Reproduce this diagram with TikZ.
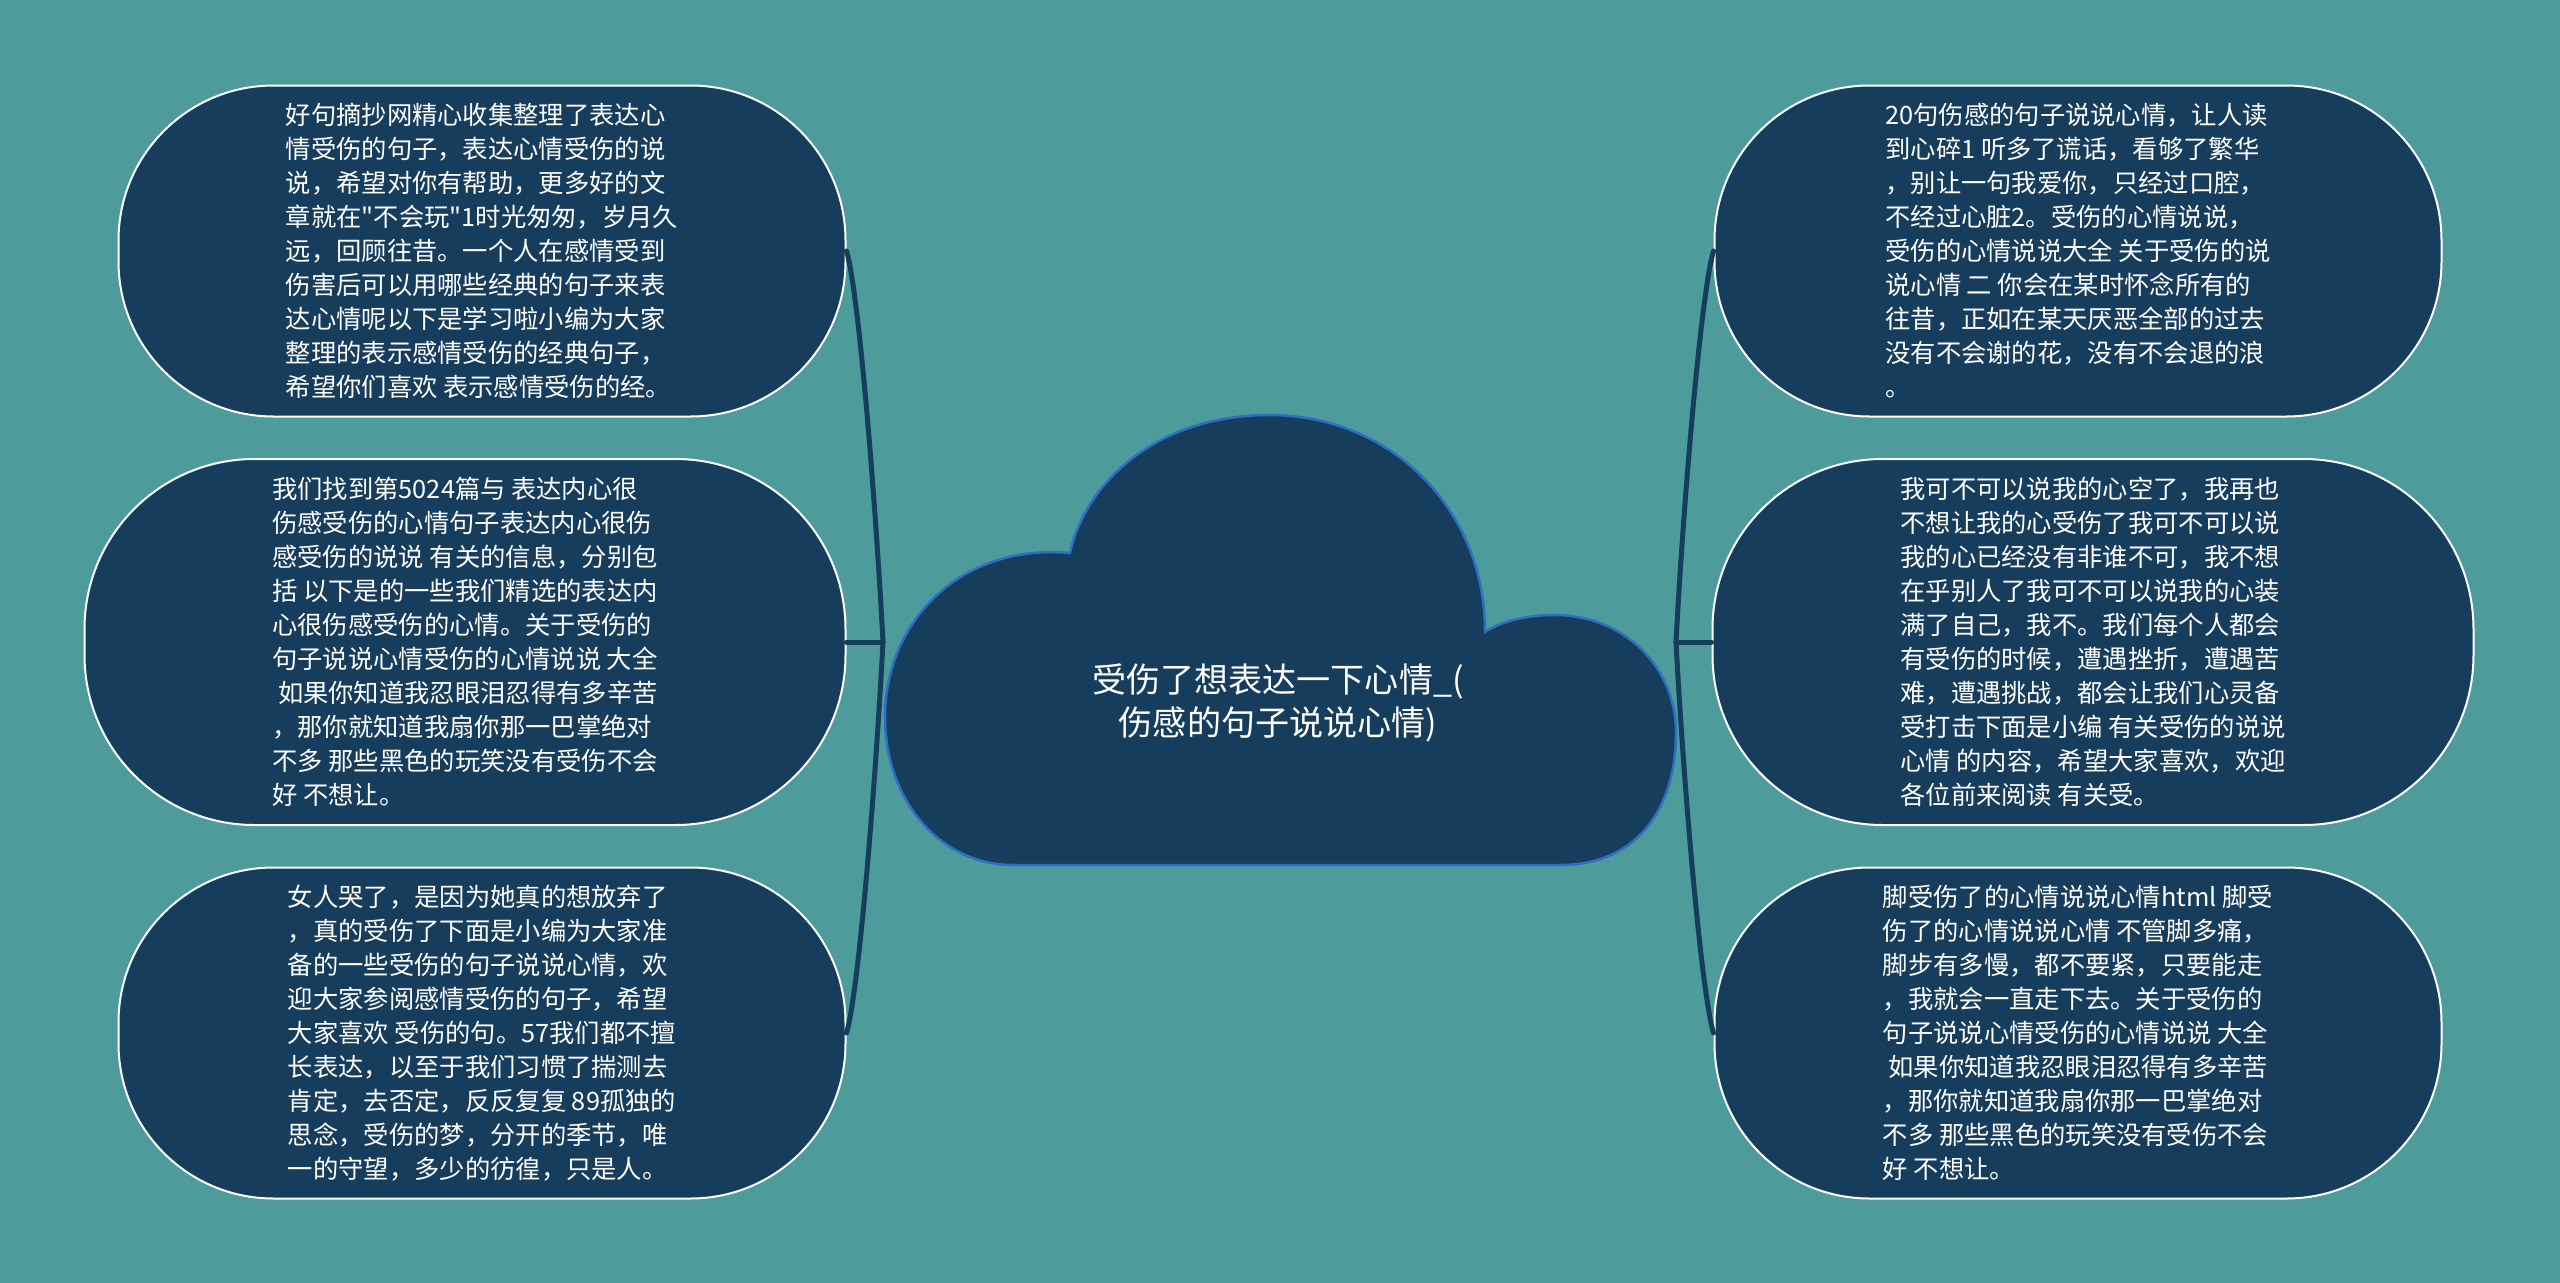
\documentclass[tikz,border=0pt]{standalone}
\usepackage{fontspec}
\newfontfamily\cjk{Noto Sans CJK SC}

\definecolor{bgteal}{RGB}{77,156,155}
\definecolor{boxblue}{RGB}{23,61,93}
\definecolor{rimblue}{RGB}{46,110,196}

\tikzset{
  leaf/.style={draw=white, line width=0.2mm, fill=boxblue, text=white, align=left, inner sep=0pt,
    rounded corners=15.5mm, minimum width=72.7mm, minimum height=33.1mm,
    font=\cjk\fontsize{7.2pt}{9.67pt}\selectfont},
  wideleaf/.style={leaf, rounded corners=17mm, minimum width=76.1mm, minimum height=36.6mm},
  branch/.style={draw=boxblue, line width=0.5mm, line cap=round}
}

\begin{document}
\begin{tikzpicture}[x=0.1mm, y=-0.1mm]

% background
\fill[bgteal] (0,0) rectangle (2560,1283);

% cloud
\draw[fill=boxblue, draw=rimblue, line width=0.25mm]
  (1013,865) -- (1560,865)
  .. controls (1640,865) and (1676,805) .. (1676,733)
  .. controls (1676,665) and (1622,615) .. (1555,615)
  .. controls (1527,615) and (1502,621) .. (1485,632)
  .. controls (1485,507) and (1389,415) .. (1270,415)
  .. controls (1152,415) and (1084,487) .. (1070,553)
  .. controls (960,543) and (885,622) .. (885,717)
  .. controls (885,800) and (940,865) .. (1013,865) -- cycle;
\node[text=white, align=center, font=\cjk\fontsize{9.7pt}{12pt}\selectfont] (title) at (1278,703)
  {受伤了想表达一下心情\_(\\伤感的句子说说心情)};

% left leaves
\node[leaf] (l1) at (482,251) {好句摘抄网精心收集整理了表达心\\情受伤的句子，表达心情受伤的说\\说，希望对你有帮助，更多好的文\\章就在"不会玩"1时光匆匆，岁月久\\远，回顾往昔。一个人在感情受到\\伤害后可以用哪些经典的句子来表\\达心情呢以下是学习啦小编为大家\\整理的表示感情受伤的经典句子，\\希望你们喜欢 表示感情受伤的经。};
\node[wideleaf] (l2) at (465,642) {我们找到第5024篇与 表达内心很\\伤感受伤的心情句子表达内心很伤\\感受伤的说说 有关的信息，分别包\\括 以下是的一些我们精选的表达内\\心很伤感受伤的心情。关于受伤的\\句子说说心情受伤的心情说说 大全\\\ 如果你知道我忍眼泪忍得有多辛苦\\，那你就知道我扇你那一巴掌绝对\\不多 那些黑色的玩笑没有受伤不会\\好 不想让。};
\node[leaf] (l3) at (482,1033) {女人哭了，是因为她真的想放弃了\\，真的受伤了下面是小编为大家准\\备的一些受伤的句子说说心情，欢\\迎大家参阅感情受伤的句子，希望\\大家喜欢 受伤的句。57我们都不擅\\长表达，以至于我们习惯了揣测去\\肯定，去否定，反反复复 89孤独的\\思念，受伤的梦，分开的季节，唯\\一的守望，多少的彷徨，只是人。};

% right leaves
\node[leaf] (r1) at (2078,251) {20句伤感的句子说说心情，让人读\\到心碎1 听多了谎话，看够了繁华\\，别让一句我爱你，只经过口腔，\\不经过心脏2。受伤的心情说说，\\受伤的心情说说大全 关于受伤的说\\说心情 二 你会在某时怀念所有的\\往昔，正如在某天厌恶全部的过去\\没有不会谢的花，没有不会退的浪\\。};
\node[wideleaf] (r2) at (2093,642) {我可不可以说我的心空了，我再也\\不想让我的心受伤了我可不可以说\\我的心已经没有非谁不可，我不想\\在乎别人了我可不可以说我的心装\\满了自己，我不。我们每个人都会\\有受伤的时候，遭遇挫折，遭遇苦\\难，遭遇挑战，都会让我们心灵备\\受打击下面是小编 有关受伤的说说\\心情 的内容，希望大家喜欢，欢迎\\各位前来阅读 有关受。};
\node[leaf] (r3) at (2078,1033) {脚受伤了的心情说说心情html 脚受\\伤了的心情说说心情 不管脚多痛，\\脚步有多慢，都不要紧，只要能走\\，我就会一直走下去。关于受伤的\\句子说说心情受伤的心情说说 大全\\\ 如果你知道我忍眼泪忍得有多辛苦\\，那你就知道我扇你那一巴掌绝对\\不多 那些黑色的玩笑没有受伤不会\\好 不想让。};

% junctions
\coordinate (lj) at (883,642);
\coordinate (rj) at (1676,642);

% branches
\draw[branch] (l1.east) .. controls +(12,40) and +(-8,-150) .. (lj);
\draw[branch] (l2.east) -- (lj);
\draw[branch] (l3.east) .. controls +(12,-40) and +(-8,150) .. (lj);
\draw[branch] (r1.west) .. controls +(-12,40) and +(8,-150) .. (rj);
\draw[branch] (r2.west) -- (rj);
\draw[branch] (r3.west) .. controls +(-12,-40) and +(8,150) .. (rj);

\end{tikzpicture}
\end{document}
